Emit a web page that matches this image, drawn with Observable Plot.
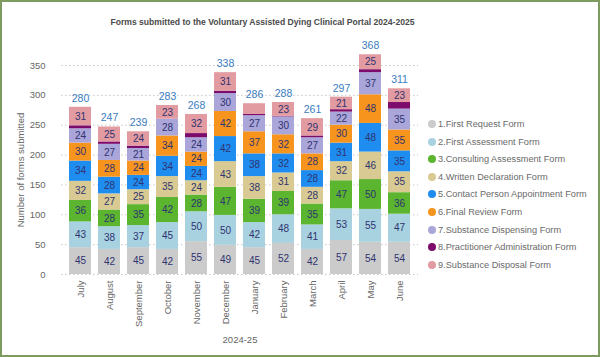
<!DOCTYPE html>
<html>
<head>
<meta charset="utf-8">
<script src="https://cdn.jsdelivr.net/npm/d3@7"></script>
<script src="https://cdn.jsdelivr.net/npm/@observablehq/plot@0.6"></script>
<style>
  html, body { margin: 0; padding: 0; background: #fff; }
  #wrap { position: relative; width: 600px; height: 357px; overflow: hidden; font-family: "Liberation Sans", Arial, sans-serif; }
  #chart { position: absolute; left: 0; top: 0; }
  #title { position: absolute; left: 0; width: 525px; top: 17px; text-align: center; font-weight: bold; font-size: 8.6px; color: #4a4a4a; }
  #legend { position: absolute; left: 428px; top: 116px; }
  .item { height: 17.6px; line-height: 17.6px; font-size: 9.2px; color: #6a6a6a; white-space: nowrap; }
  .dot { display: inline-block; width: 8px; height: 8px; border-radius: 50%; margin-right: 2px; vertical-align: -1px; }
  #border { position: absolute; left: 0; top: 0; width: 600px; height: 357px; box-sizing: border-box; border: 2px solid #7f9c60; pointer-events: none; }
</style>
</head>
<body>
<div id="wrap">
  <div id="chart"></div>
  <div id="title">Forms submitted to the Voluntary Assisted Dying Clinical Portal 2024-2025</div>
  <div id="legend"></div>
  <div id="border"></div>
</div>
<script>
const months = ["July","August","September","October","November","December","January","February","March","April","May","June"];
const seriesNames = [
  "1.First Request Form",
  "2.First Assessment Form",
  "3.Consulting Assessment Form",
  "4.Written Declaration Form",
  "5.Contact Person Appointment Form",
  "6.Final Review Form",
  "7.Substance Dispensing Form",
  "8.Practitioner Administration Form",
  "9.Substance Disposal Form"
];
const seriesColors = ["#cbcbcb","#a8d2e0","#5bb52f","#d8ca92","#1f8df0","#f7941e","#aaa6da","#7c0b6c","#e29ba1"];

const firstRequest      = [45,42,45,42,55,49,45,52,42,57,54,54];
const firstAssessment   = [43,38,37,45,50,50,42,48,41,53,55,47];
const consulting        = [36,28,35,42,28,47,39,39,35,47,50,36];
const writtenDecl       = [32,27,25,35,24,43,38,31,28,32,46,35];
const contactPerson     = [34,28,24,34,24,42,38,32,28,31,48,35];
const finalReview       = [30,28,24,34,24,42,37,32,28,30,48,35];
const dispensing        = [24,27,21,28,24,30,27,30,27,22,37,35];
const practitionerAdmin = [5,4,4,0,7,4,2,1,3,4,5,11];
const disposal          = [31,25,24,23,32,31,18,23,29,21,25,23];
const totals            = [280,247,239,283,268,338,286,288,261,297,368,311];
const yTicks            = [0,50,100,150,200,250,300,350];

const seriesValues = [firstRequest, firstAssessment, consulting, writtenDecl, contactPerson, finalReview, dispensing, practitionerAdmin, disposal];

const data = [];
months.forEach((m, i) => {
  seriesNames.forEach((s, j) => {
    data.push({month: m, series: s, value: seriesValues[j][i]});
  });
});
const totalData = months.map((m, i) => ({month: m, total: totals[i]}));

const chart = Plot.plot({
  width: 600,
  height: 357,
  marginLeft: 61,
  marginRight: 182,
  marginTop: 65,
  marginBottom: 83,
  style: {fontFamily: "'Liberation Sans', Arial, sans-serif", fontSize: "9.5px", background: "transparent", color: "#666"},
  x: {domain: months, paddingInner: 0.23, paddingOuter: 0.1},
  y: {domain: [0, 350]},
  color: {domain: seriesNames, range: seriesColors},
  marks: [
    Plot.ruleY(yTicks, {stroke: "#c8c8c8", strokeDasharray: "1.5,2.5", strokeWidth: 1}),
    Plot.barY(data, Plot.stackY({x: "month", y: "value", z: "series", fill: "series", order: null})),
    Plot.text(data, Plot.stackY({x: "month", y: "value", z: "series", order: null,
      text: d => d.value >= 20 ? String(d.value) : null,
      fill: "#2f3370", fontSize: 10})),
    Plot.text(totalData, {x: "month", y: "total", text: d => String(d.total), dy: -9, fill: "#3b7cbf", fontSize: 10.5}),
    Plot.axisX({tickRotate: -90, tickSize: 0, tickPadding: 6, label: "2024-25", labelAnchor: "center", labelOffset: 68, fill: "#666"}),
    Plot.axisY(yTicks, {tickSize: 0, tickPadding: 16, label: "Number of forms submitted", labelAnchor: "center", labelArrow: "none", labelOffset: 44, fill: "#666"})
  ]
});
document.getElementById("chart").appendChild(chart);

const legend = document.getElementById("legend");
seriesNames.forEach((s, j) => {
  const item = document.createElement("div");
  item.className = "item";
  const dot = document.createElement("span");
  dot.className = "dot";
  dot.style.background = seriesColors[j];
  item.appendChild(dot);
  item.appendChild(document.createTextNode(s));
  legend.appendChild(item);
});
</script>
</body>
</html>
